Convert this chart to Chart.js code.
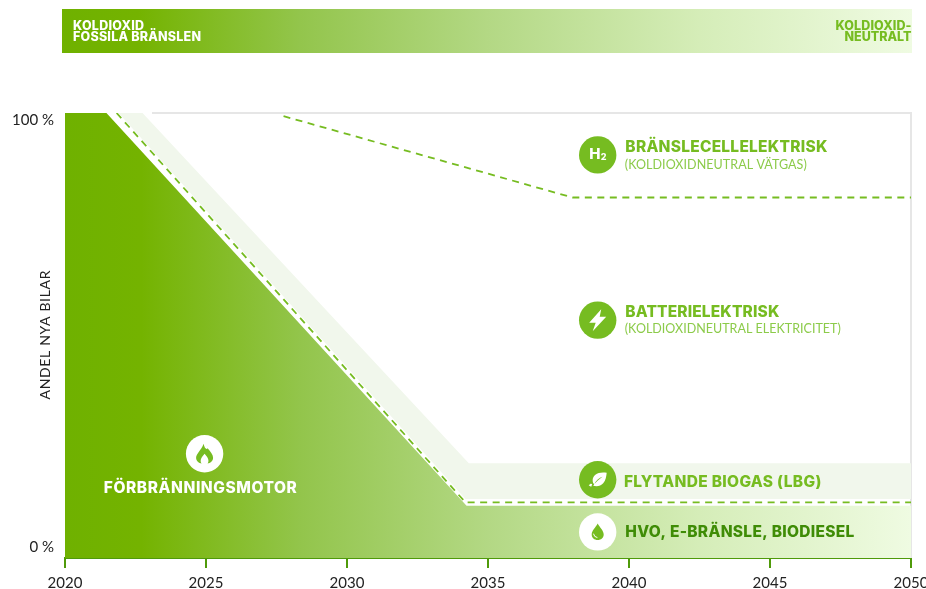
<!DOCTYPE html>
<html lang="sv">
<head>
<meta charset="utf-8">
<style>html,body{margin:0;padding:0;background:#fff;overflow:hidden;width:926px;height:589px}canvas{display:block}</style>
<script src="https://cdn.jsdelivr.net/npm/chart.js@4"></script>
</head>
<body>
<canvas id="c" width="960" height="589"></canvas>
<script>
const yearTicks = [2020, 2025, 2030, 2035, 2040, 2045, 2050];
const shareTicks = [0, 100];

const combustionYears = [2020, 2021.47, 2034.24, 2050];
const combustionShare = [101.64, 101.64, 9.63, 9.63];
const hvoLimitYears = [2021.83, 2034.2, 2050];
const hvoLimitShare = [101.64, 10.44, 10.44];
const biogasLowerYears = [2021.9, 2034.2, 2050];
const biogasLowerShare = [101.64, 11.24, 11.24];
const biogasUpperYears = [2021.9, 2022.75, 2034.32, 2050];
const biogasUpperShare = [101.64, 101.64, 19.63, 19.63];
const hydrogenYears = [2027.75, 2038.0, 2050];
const hydrogenShare = [100.9, 81.85, 81.85];

const GREEN = '#76bc21', DARK = '#3f8c06', AXIS = '#4f9a0a', INK = '#222222';
const BOLD = 'Inter, sans-serif';
const PLAIN = 'Lato, sans-serif';
const stops = [[0,'#6fb100'],[0.09,'#74b300'],[0.28,'#93c54c'],[0.5,'#b3d884'],[0.75,'#d5edb8'],[1,'#effbe2']];

function pts(xs, ys){ return xs.map((x,i)=>({x, y:ys[i]})); }
function grad(ctx, x0, x1){
  const g = ctx.createLinearGradient(x0,0,x1,0);
  stops.forEach(s=>g.addColorStop(s[0],s[1]));
  return g;
}
function label(ctx, text, x, y, font, color, width, align){
  ctx.save();
  ctx.font = font; ctx.fillStyle = color;
  ctx.textBaseline = 'middle'; ctx.textAlign = 'left';
  const m = ctx.measureText(text).width;
  if (width) ctx.letterSpacing = ((width-m)/(text.length-1)).toFixed(3)+'px';
  const w = width || m;
  const left = align==='right' ? x-w : align==='center' ? x-w/2 : x;
  ctx.fillText(text, left, y);
  ctx.restore();
}

const glyphs = {
  flame: new Path2D('M-1,-10 C0,-5 2,-4 3,-5.5 C6,-2 8.5,1 8.5,4 C8.5,7.5 5.5,9.5 3,9.8 C5,7 3.5,4 0,0 C-3.5,4 -5,7 -3,9.8 C-5.5,9.5 -8.5,7.5 -8.5,4 C-8.5,0 -3,-4 -1,-10Z'),
  bolt: new Path2D('M3.5,-11 L-8.5,2.5 L-2,2.5 L-5,11 L8.5,-3.5 L2,-3.5 Z'),
  leaf: new Path2D('M9,-7 C1,-8.5 -5.5,-5 -5,1 C-5,2.6 -4.5,3.6 -3.5,4.6 C-2,1 1.5,-2 5,-3 C2,-1 -2.5,2.5 -4.5,6 C-1,7 3,6.5 5.5,3.5 C8,0.5 8.5,-3 9,-7Z M-9,5.5 C-7.5,3.5 -6,3.5 -5.5,4.5 L-6.5,7 C-7.5,6.5 -8.5,6 -9,5.5Z'),
  drop: new Path2D('M0,-8.5 C2,-4.5 6,-1.5 6,2.5 C6,5.8 3.3,8 0,8 C-3.3,8 -6,5.8 -6,2.5 C-6,-1.5 -2,-4.5 0,-8.5Z')
};

const icons = [
  {year:2038.89, share:91.83, disc:GREEN, ink:'#fff', kind:'h2'},
  {year:2038.89, share:53.13, disc:GREEN, ink:'#fff', kind:'bolt'},
  {year:2038.89, share:15.73, disc:GREEN, ink:'#fff', kind:'leaf'},
  {year:2038.89, share:3.53,  disc:'#fff', ink:GREEN, kind:'drop'},
  {year:2024.95, share:21.83, disc:'#fff', ink:GREEN, kind:'flame'}
];
const notes = [
  {year:2039.87, share:93.5, text:'BRÄNSLECELLELEKTRISK', font:'800 15.5px '+BOLD, color:GREEN, width:202},
  {year:2039.85, share:89.5, text:'(KOLDIOXIDNEUTRAL VÄTGAS)', font:'400 12.5px '+PLAIN, color:'#8ccb4a', width:182},
  {year:2039.87, share:55.0, text:'BATTERIELEKTRISK', font:'800 15.5px '+BOLD, color:GREEN, width:154},
  {year:2039.85, share:51.0, text:'(KOLDIOXIDNEUTRAL ELEKTRICITET)', font:'400 12.5px '+PLAIN, color:'#8ccb4a', width:216},
  {year:2039.82, share:15.2, text:'FLYTANDE BIOGAS (LBG)', font:'800 15.5px '+BOLD, color:GREEN, width:197},
  {year:2039.87, share:3.5, text:'HVO, E-BRÄNSLE, BIODIESEL', font:'800 15.5px '+BOLD, color:DARK, width:229},
  {year:2024.80, share:13.8, text:'FÖRBRÄNNINGSMOTOR', font:'800 15.5px '+BOLD, color:'#fff', width:193, align:'center'}
];

const decor = {
  id:'decor',
  beforeDatasetsDraw(chart){
    const {ctx, chartArea:a} = chart;
    ctx.save();
    ctx.fillStyle = grad(ctx, 62, 912);
    ctx.fillRect(62, 9, 850, 44);
    ctx.strokeStyle = '#e6e6e6'; ctx.lineWidth = 2;
    ctx.beginPath();
    ctx.moveTo(152, a.top); ctx.lineTo(a.right, a.top); ctx.lineTo(a.right, a.bottom);
    ctx.stroke();
    ctx.restore();
  },
  afterDatasetsDraw(chart){
    const {ctx, scales:{x, y}} = chart;
    label(ctx,'KOLDIOXID',73,26.5,'800 12.5px '+BOLD,'#fff',71);
    label(ctx,'FOSSILA BRÄNSLEN',73,37.5,'800 12.5px '+BOLD,'#fff',128);
    label(ctx,'KOLDIOXID-',911.5,26.5,'800 12.5px '+BOLD,GREEN,76,'right');
    label(ctx,'NEUTRALT',911.5,37.5,'800 12.5px '+BOLD,GREEN,67,'right');

    ctx.save();
    ctx.translate(45, 335); ctx.rotate(-Math.PI/2);
    label(ctx,'ANDEL NYA BILAR',0,0,'400 14px '+PLAIN,INK,129,'center');
    ctx.restore();

    icons.forEach(ic=>{
      const cx = x.getPixelForValue(ic.year), cy = y.getPixelForValue(ic.share);
      ctx.save();
      ctx.translate(cx, cy);
      ctx.fillStyle = ic.disc;
      ctx.beginPath(); ctx.arc(0,0,18.7,0,Math.PI*2); ctx.fill();
      ctx.fillStyle = ic.ink;
      if (ic.kind==='h2') {
        label(ctx,'H',-8.5,-0.5,'800 15px '+BOLD,'#fff');
        label(ctx,'2',3,2.5,'800 9px '+BOLD,'#fff');
      } else {
        ctx.fill(glyphs[ic.kind]);
        if (ic.kind==='drop') {
          ctx.strokeStyle='#fff'; ctx.lineWidth=1; ctx.lineCap='round';
          ctx.beginPath(); ctx.arc(0,1.5,4.2,Math.PI*0.55,Math.PI*0.95); ctx.stroke();
        }
      }
      ctx.restore();
    });
    notes.forEach(n=>label(ctx,n.text,x.getPixelForValue(n.year),y.getPixelForValue(n.share),n.font,n.color,n.width,n.align));
  }
};

new Chart(document.getElementById('c'), {
  type:'line',
  data:{datasets:[
    {label:'Förbränningsmotor', data:pts(combustionYears,combustionShare), borderWidth:0, pointRadius:0, tension:0, fill:'start',
     backgroundColor:c=>{const a=c.chart.chartArea; return a?grad(c.chart.ctx,a.left,a.right):'#74b300';}},
    {label:'Flytande biogas', data:pts(biogasUpperYears,biogasUpperShare), borderWidth:0, pointRadius:0, tension:0, fill:'+1', backgroundColor:'#f1f7ec'},
    {label:'Flytande biogas, undre', data:pts(biogasLowerYears,biogasLowerShare), borderWidth:0, pointRadius:0, tension:0, fill:false},
    {label:'HVO-gräns', data:pts(hvoLimitYears,hvoLimitShare), borderColor:GREEN, borderWidth:1.8, borderDash:[7,5.5], pointRadius:0, tension:0, fill:false},
    {label:'Vätgas-gräns', data:pts(hydrogenYears,hydrogenShare), borderColor:GREEN, borderWidth:1.8, borderDash:[7,5.5], pointRadius:0, tension:0, fill:false}
  ]},
  options:{
    responsive:false, animation:false, devicePixelRatio:1,
    layout:{padding:{left:0,right:49,top:113,bottom:0}},
    plugins:{legend:{display:false},tooltip:{enabled:false}},
    scales:{
      x:{type:'linear',min:2020,max:2050,
        afterBuildTicks:s=>{s.ticks=yearTicks.map(v=>({value:v}));},
        afterFit:s=>{s.height=31;},
        border:{color:AXIS,width:2},
        grid:{display:true,drawOnChartArea:false,drawTicks:true,color:AXIS,lineWidth:2,tickLength:10},
        ticks:{autoSkip:false,maxRotation:0,padding:6,color:INK,font:{family:PLAIN,size:15},callback:v=>String(v)}},
      y:{type:'linear',min:-2.58,max:101.64,
        afterBuildTicks:s=>{s.ticks=shareTicks.map(v=>({value:v}));},
        afterFit:s=>{s.width=65;},
        border:{display:false},
        grid:{display:false,drawTicks:false},
        ticks:{autoSkip:false,padding:11,color:INK,font:{family:PLAIN,size:15},callback:v=>v+' %'}}
    }
  },
  plugins:[decor]
});
</script>
</body>
</html>
